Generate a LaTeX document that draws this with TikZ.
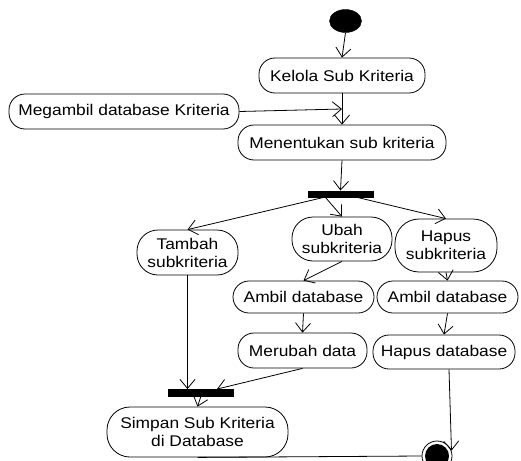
\documentclass[tikz,border=0pt]{standalone}
\usepackage{fontspec}
\setmainfont[FakeStretch=1.12]{Liberation Sans}
\usetikzlibrary{arrows.meta,shapes.geometric}
\begin{document}
\begin{tikzpicture}[x=1pt,y=-1pt,
  act/.style={draw, line width=0.8pt, rounded corners=16pt, align=center,
    inner sep=0pt, font=\fontsize{15.5}{18}\selectfont},
  bar/.style={draw, fill=black, inner sep=0pt, minimum width=65pt, minimum height=6.5pt},
  flow/.style={line width=0.8pt, -{Straight Barb[length=9pt,width=15pt,line width=0.8pt]}},
  plain/.style={line width=0.8pt}]
\useasboundingbox (0,0) rectangle (521,460);

% start and end states
\node[ellipse, fill=black, draw, minimum width=32pt, minimum height=23pt, inner sep=0pt] (start) at (345.5,21) {};
\node[circle, draw, line width=0.8pt, minimum size=30pt, inner sep=0pt] (end) at (437,456) {};
\fill (end) circle (12pt);

% activities
\node[act, minimum width=166pt, minimum height=35pt] (kelola) at (342,75.5) {Kelola Sub Kriteria};
\node[act, minimum width=230pt, minimum height=35pt] (megambil) at (124,111.5) {Megambil database Kriteria};
\node[act, minimum width=208pt, minimum height=35pt] (menentukan) at (342,142.5) {Menentukan sub kriteria};
\node[bar] (fork) at (340.5,194) {};
\node[act, rounded corners=21pt, minimum width=101pt, minimum height=45pt] (tambah) at (187.5,252.5) {Tambah\\subkriteria};
\node[act, rounded corners=21pt, minimum width=100pt, minimum height=44pt] (ubah) at (342,239) {Ubah\\subkriteria};
\node[act, rounded corners=24pt, minimum width=102pt, minimum height=53pt] (hapus) at (446,245.5) {Hapus\\subkriteria};
\node[act, minimum width=141pt, minimum height=32pt] (ambilL) at (303.5,297) {Ambil database};
\node[act, minimum width=141pt, minimum height=32pt] (ambilR) at (447.5,297) {Ambil database};
\node[act, minimum width=129pt, minimum height=35pt] (merubah) at (302.5,350.5) {Merubah data};
\node[act, minimum width=142pt, minimum height=34pt] (hapusdb) at (444,352) {Hapus database};
\node[bar] (join) at (201,392.5) {};
\node[act, rounded corners=23pt, minimum width=181pt, minimum height=50pt] (simpan) at (197.5,432) {Simpan Sub Kriteria\\di Database};

\coordinate (merge) at (342,109);

% control flow
\draw[flow] (start.south) -- (kelola.north);
\draw[flow] (kelola.south) -- (menentukan.north);
\draw[flow] (megambil.east) -- (merge);
\draw[flow] (menentukan.south) -- (fork.north);
\draw[flow] ([xshift=-17pt]fork.south) -- (tambah.north);
\draw[flow] ([xshift=-15pt]fork.south) -- (ubah.north);
\draw[flow] ([xshift=17pt]fork.south) -- (hapus.north);
\draw[flow] (ubah.south) -- (ambilL.north);
\draw[flow] (hapus.south) -- (ambilR.north);
\draw[flow] (ambilL.south) -- (merubah.north);
\draw[flow] (ambilR.south) -- (hapusdb.north);
\draw[flow] (tambah.south) -- (tambah.south |- join.north);
\draw[flow] (merubah.south) -- ([xshift=16pt]join.north);
\draw[flow] (join.south) -- (simpan.north);
\draw[flow] ([xshift=5pt]hapusdb.south) -- (end.20);
\draw[plain] (simpan.south) -- (end.west);
\end{tikzpicture}
\end{document}
